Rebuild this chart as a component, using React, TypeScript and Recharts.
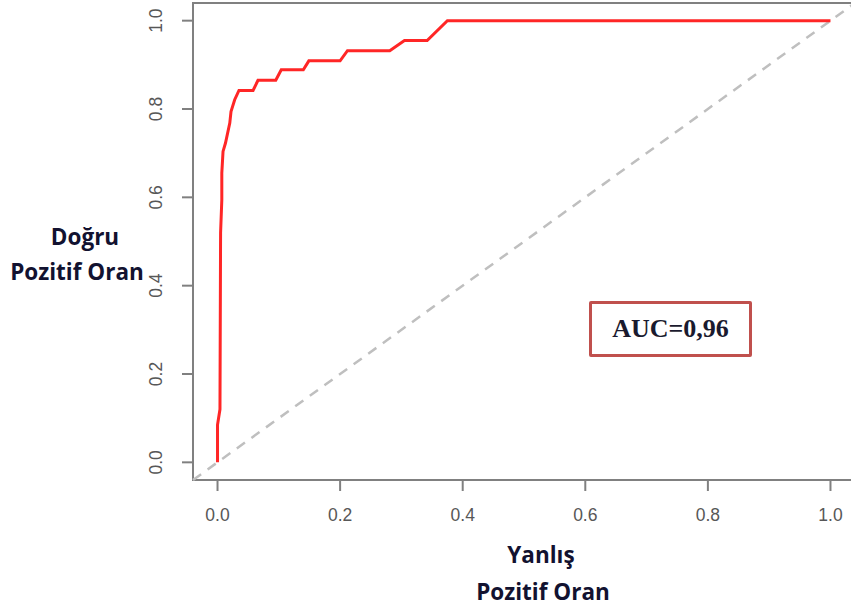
/**
 * ROC curve — true positive rate vs false positive rate, with AUC annotation.
 */

import { LineChart, Line, XAxis, YAxis, ReferenceLine, ReferenceArea } from 'recharts'

const fprValues = [
  0, 0, 0.004, 0.005, 0.007, 0.007, 0.009, 0.013, 0.02, 0.022, 0.028, 0.035,
  0.058, 0.066, 0.095, 0.104, 0.14, 0.149, 0.2, 0.212, 0.281, 0.305, 0.342, 0.375, 1.0,
]
const tprValues = [
  0, 0.085, 0.12, 0.52, 0.594, 0.655, 0.704, 0.723, 0.768, 0.794, 0.821, 0.842,
  0.842, 0.865, 0.865, 0.889, 0.889, 0.909, 0.909, 0.932, 0.932, 0.955, 0.955, 1.0, 1.0,
]
const axisTicks = [0, 0.2, 0.4, 0.6, 0.8, 1.0]
const aucLabel = 'AUC=0,96'

const rocData = fprValues.map((fpr, i) => ({ fpr, tpr: tprValues[i] }))

const DOMAIN: [number, number] = [-0.04, 1.04]
const tickColor = '#575757'
const axisColor = '#808080'

function YTick({ x, y, payload }: { x: number; y: number; payload: { value: number } }) {
  const tx = x - 18
  return (
    <text
      x={tx}
      y={y}
      transform={`rotate(-90, ${tx}, ${y})`}
      textAnchor="middle"
      fill={tickColor}
      fontSize={17.5}
      fontFamily="'Liberation Sans', Arial, sans-serif"
    >
      {payload.value.toFixed(1)}
    </text>
  )
}

const labelStyle: React.CSSProperties = {
  position: 'absolute',
  fontFamily: "'Open Sans', sans-serif",
  fontWeight: 700,
  fontSize: 22.5,
  color: '#121230',
  whiteSpace: 'nowrap',
  transform: 'translate(-50%, -50%)',
  lineHeight: 1,
}

export default function App() {
  return (
    <div
      style={{
        position: 'fixed',
        left: 0,
        top: 0,
        width: 851,
        height: 615,
        overflow: 'hidden',
        background: '#fff',
      }}
    >
      <LineChart
        width={870}
        height={615}
        data={rocData}
        margin={{ top: 3, right: 15, left: 0, bottom: 0 }}
      >
        <XAxis
          type="number"
          dataKey="fpr"
          domain={DOMAIN}
          allowDataOverflow
          ticks={axisTicks}
          tickFormatter={(v: number) => v.toFixed(1)}
          axisLine={false}
          tickLine={{ stroke: axisColor, strokeWidth: 2 }}
          tickSize={11}
          tickMargin={18}
          height={135}
          tick={{ fill: tickColor, fontSize: 17.5, fontFamily: "'Liberation Sans', Arial, sans-serif" }}
        />
        <YAxis
          type="number"
          domain={DOMAIN}
          allowDataOverflow
          ticks={axisTicks}
          axisLine={false}
          tickLine={{ stroke: axisColor, strokeWidth: 2 }}
          tickSize={11}
          width={193}
          tick={YTick}
        />
        <ReferenceArea
          x1={-0.04}
          x2={1.04}
          y1={-0.04}
          y2={1.04}
          fill="none"
          fillOpacity={0}
          stroke={axisColor}
          strokeWidth={2}
        />
        <ReferenceLine
          segment={[{ x: -0.04, y: -0.04 }, { x: 1.04, y: 1.04 }]}
          stroke="#bfbfbf"
          strokeWidth={2.5}
          strokeDasharray="10 8"
        />
        <Line
          type="linear"
          dataKey="tpr"
          stroke="#ff2626"
          strokeWidth={3}
          dot={false}
          isAnimationActive={false}
        />
      </LineChart>

      <div style={{ ...labelStyle, left: 85, top: 237 }}>Doğru</div>
      <div style={{ ...labelStyle, left: 77, top: 272 }}>Pozitif Oran</div>
      <div style={{ ...labelStyle, left: 541, top: 555 }}>Yanlış</div>
      <div style={{ ...labelStyle, left: 543, top: 592 }}>Pozitif Oran</div>

      <div
        style={{
          position: 'absolute',
          left: 589,
          top: 301,
          width: 157,
          height: 50,
          border: '3px solid #c0504d',
          borderRadius: 2,
          display: 'flex',
          alignItems: 'center',
          justifyContent: 'center',
          fontFamily: "'Liberation Serif', 'Times New Roman', serif",
          fontWeight: 700,
          fontSize: 26,
          color: '#1a1a2e',
        }}
      >
        {aucLabel}
      </div>
    </div>
  )
}
